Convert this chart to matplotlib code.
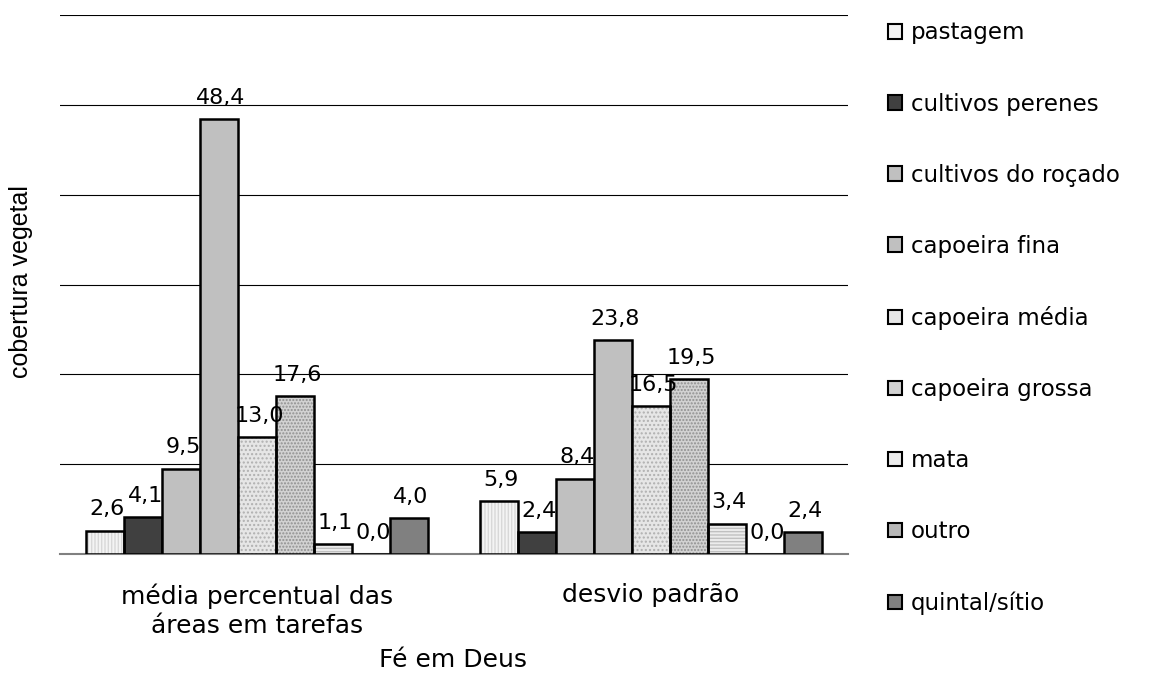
import matplotlib.pyplot as plt
import numpy as np
from matplotlib.patches import Patch

plt.rcParams['font.family'] = ['DejaVu Sans']

categories = ["média percentual das\náreas em tarefas", "desvio padrão"]
series = ["pastagem", "cultivos perenes", "cultivos do roçado", "capoeira fina",
          "capoeira média", "capoeira grossa", "mata", "outro", "quintal/sítio"]
values = [
    [2.6, 5.9],
    [4.1, 2.4],
    [9.5, 8.4],
    [48.4, 23.8],
    [13.0, 16.5],
    [17.6, 19.5],
    [1.1, 3.4],
    [0.0, 0.0],
    [4.0, 2.4],
]

faces = ["#f4f4f4", "#404040", "#c0c0c0", "#c0c0c0", "#e6e6e6",
         "#d2d2d2", "#ececec", "#b8b8b8", "#808080"]
hatches = ["|||||", None, None, None, "....", ".....", "-----", "....", None]
hatch_cols = ["#d8d8d8", None, None, None, "#b0b0b0", "#909090", "#c0c0c0", "#707070", None]

fig, ax = plt.subplots(figsize=(11.65, 6.79), dpi=100)
fig.subplots_adjust(left=0.0515, right=0.728, bottom=0.184, top=0.978)

x = np.arange(len(categories))
w = 0.0963
n = len(series)
for i in range(n):
    pos = x + (i - (n - 1) / 2) * w
    if hatches[i]:
        ax.bar(pos, values[i], w, color=faces[i], hatch=hatches[i],
               edgecolor=hatch_cols[i], linewidth=0, zorder=3)
        ax.bar(pos, values[i], w, fill=False, edgecolor="black", linewidth=1.8, zorder=4)
    else:
        ax.bar(pos, values[i], w, color=faces[i], edgecolor="black", linewidth=1.8, zorder=3)
    for p, v in zip(pos, values[i]):
        ax.text(p + 0.005, v + 1.7, f"{v:.1f}".replace(".", ","), ha="center", va="baseline",
                fontsize=16, zorder=5)

ax.set_xlim(-0.5, 1.5)
ax.set_ylim(0, 60)
ax.set_yticks(np.arange(10, 61, 10))
ax.yaxis.grid(True, color="black", linewidth=0.8)
ax.set_axisbelow(True)
ax.tick_params(axis="y", length=0, labelleft=False)
ax.tick_params(axis="x", length=0, labelsize=18, pad=21)
ax.set_xticks(x)
ax.set_xticklabels(categories, linespacing=1.26)
for s in ["top", "right", "left"]:
    ax.spines[s].set_visible(False)
ax.spines["bottom"].set_color("#808080")
ax.spines["bottom"].set_linewidth(1.5)

fig.text(0.389, 1 - 667 / 679, "Fé em Deus", ha="center", va="baseline", fontsize=18)
fig.text(0.018, 0.586, "cobertura vegetal", rotation=90, ha="center", va="center",
         fontsize=18, family="Liberation Sans")

handles = [Patch(facecolor=faces[i], edgecolor="black", linewidth=1.5) for i in range(n)]
leg = fig.legend(handles, series, loc="upper left", bbox_to_anchor=(0.7546, 0.982),
                 frameon=False, fontsize=16.5, handlelength=0.6, handleheight=0.6,
                 handletextpad=0.4, labelspacing=2.10, borderaxespad=0)

fig.savefig("out.png", dpi=100)
